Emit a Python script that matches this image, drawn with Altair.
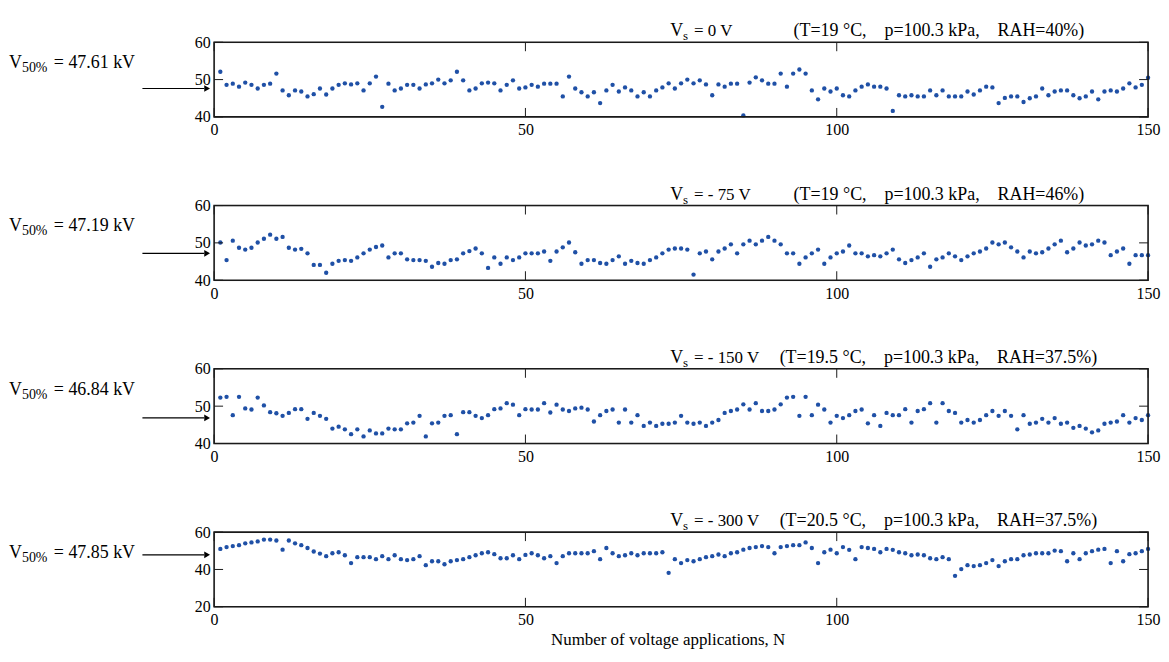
import altair as alt
import pandas as pd

N = list(range(1, 151))

v_0 = [52.1, 48.6, 48.9, 48.1, 49.2, 48.6, 47.6, 48.6, 48.9, 51.6,
       47.1, 45.8, 47.1, 46.8, 45.5, 46.1, 47.6, 46.0, 47.6, 48.6,
       49.0, 48.7, 49.0, 47.1, 49.0, 50.8, 42.7, 48.9, 47.1, 47.6,
       48.6, 48.6, 47.6, 48.7, 49.0, 50.0, 49.0, 49.8, 52.1, 49.8,
       47.1, 47.6, 49.0, 49.2, 49.0, 47.1, 48.6, 49.8, 47.6, 47.9,
       48.6, 48.1, 48.9, 48.9, 48.9, 45.5, 50.8, 47.6, 46.6, 45.5,
       46.6, 43.7, 47.1, 48.6, 46.8, 47.9, 47.1, 45.5, 46.6, 45.5,
       47.1, 47.9, 49.0, 47.6, 49.0, 50.0, 49.0, 49.8, 48.7, 45.8,
       48.7, 48.1, 48.9, 48.9, 40.4, 49.2, 50.6, 49.8, 48.9, 48.9,
       51.6, 48.1, 51.6, 52.7, 51.6, 47.1, 44.7, 47.6, 46.8, 47.6,
       45.8, 45.5, 47.1, 48.1, 48.7, 48.1, 48.1, 47.6, 41.6, 45.8,
       45.5, 45.8, 45.5, 45.5, 47.1, 45.8, 47.1, 45.5, 45.5, 45.5,
       46.8, 46.0, 47.1, 48.1, 47.9, 43.7, 45.1, 45.5, 45.5, 44.0,
       45.0, 45.5, 47.6, 45.8, 46.8, 47.1, 47.1, 45.8, 45.0, 45.5,
       46.8, 44.7, 46.8, 47.1, 46.8, 47.6, 49.0, 47.9, 48.6, 50.5]

v_75 = [50.1, 45.4, 50.6, 48.7, 48.2, 48.7, 50.1, 51.1, 52.2, 51.1,
        51.6, 48.7, 48.2, 48.4, 47.2, 44.1, 44.1, 42.0, 44.4, 45.2,
        45.4, 45.2, 46.1, 47.2, 48.2, 48.9, 49.3, 46.1, 47.2, 47.2,
        45.6, 45.4, 45.4, 45.2, 43.6, 44.6, 44.4, 45.4, 45.6, 47.2,
        47.8, 48.5, 47.2, 43.3, 46.1, 44.4, 46.1, 45.4, 46.1, 47.2,
        47.2, 47.2, 47.7, 45.2, 47.7, 48.8, 50.1, 47.5, 44.4, 45.4,
        45.4, 44.6, 44.4, 45.4, 46.4, 44.4, 45.2, 44.6, 44.4, 45.4,
        46.1, 47.2, 48.2, 48.5, 48.5, 48.2, 41.5, 47.2, 47.7, 45.6,
        47.7, 48.5, 49.6, 47.2, 49.6, 50.6, 49.6, 50.6, 51.6, 50.6,
        49.6, 47.2, 47.2, 44.4, 46.1, 47.2, 48.2, 44.4, 46.1, 47.2,
        47.7, 49.3, 47.2, 47.2, 46.4, 46.7, 46.4, 47.2, 48.2, 45.6,
        44.6, 45.4, 46.1, 47.2, 43.6, 45.6, 46.1, 47.2, 46.4, 45.4,
        46.4, 47.2, 47.7, 48.5, 50.1, 49.6, 50.1, 48.8, 47.7, 46.1,
        47.7, 47.2, 47.5, 48.5, 49.6, 50.6, 47.5, 48.5, 50.1, 49.3,
        49.6, 50.6, 50.1, 46.7, 47.7, 48.5, 44.4, 46.7, 46.7, 46.7]

v_150 = [52.3, 52.5, 47.6, 52.5, 49.4, 49.1, 52.3, 50.2, 48.4, 48.1,
         47.4, 48.2, 49.2, 49.2, 46.6, 48.2, 47.4, 46.6, 44.0, 44.5,
         43.8, 42.5, 43.8, 41.9, 43.5, 42.7, 42.7, 44.0, 43.8, 43.8,
         45.4, 45.6, 47.4, 41.9, 45.4, 45.6, 47.4, 47.6, 42.5, 48.4,
         48.4, 47.4, 46.8, 47.6, 49.2, 49.4, 50.8, 50.4, 47.6, 49.2,
         49.1, 49.1, 50.8, 48.3, 50.4, 49.1, 48.7, 49.4, 49.6, 49.1,
         45.9, 47.6, 48.7, 49.1, 45.6, 49.1, 45.6, 47.6, 44.7, 45.6,
         44.7, 45.3, 45.3, 45.6, 47.4, 45.6, 45.3, 45.6, 44.7, 45.6,
         46.3, 48.2, 48.7, 49.1, 50.5, 49.1, 50.8, 48.7, 48.7, 49.1,
         50.5, 52.3, 52.5, 47.4, 52.5, 47.6, 50.4, 49.1, 45.6, 47.4,
         46.8, 47.6, 48.7, 49.1, 45.4, 47.6, 44.7, 48.2, 47.6, 47.6,
         49.2, 45.6, 48.7, 49.2, 50.8, 45.6, 50.8, 48.7, 48.2, 45.6,
         46.3, 45.6, 46.3, 47.6, 48.7, 47.4, 48.7, 47.4, 43.8, 47.6,
         45.3, 45.6, 46.6, 45.6, 46.8, 45.3, 45.6, 44.2, 44.7, 44.0,
         43.0, 43.5, 45.3, 45.6, 45.9, 47.6, 45.6, 46.8, 46.3, 47.6]

v_300 = [51.0, 52.0, 52.5, 53.0, 54.0, 54.5, 55.0, 56.0, 56.0, 55.5,
         50.6, 55.5, 54.0, 53.0, 51.5, 49.6, 48.5, 47.1, 48.7, 49.2,
         47.6, 43.4, 46.6, 46.6, 46.6, 45.5, 47.1, 45.5, 47.6, 45.5,
         45.0, 45.5, 47.1, 42.3, 44.4, 44.4, 42.8, 44.4, 45.0, 45.5,
         46.6, 47.6, 48.7, 49.2, 48.2, 46.0, 46.0, 47.6, 45.5, 47.8,
         48.7, 47.6, 46.0, 47.1, 43.4, 47.1, 48.7, 48.7, 48.7, 48.7,
         49.8, 45.5, 51.5, 48.7, 47.1, 47.6, 48.7, 47.6, 48.7, 48.7,
         48.7, 49.2, 38.2, 45.5, 43.4, 45.0, 44.4, 45.5, 46.6, 47.1,
         48.0, 47.1, 48.7, 49.2, 50.6, 51.5, 52.0, 52.5, 52.0, 48.7,
         52.0, 52.5, 53.0, 53.0, 54.5, 51.5, 43.4, 49.2, 50.6, 48.7,
         52.0, 50.5, 45.5, 52.0, 51.5, 51.0, 49.2, 51.0, 50.5, 49.2,
         48.7, 47.6, 48.0, 47.6, 46.0, 45.5, 46.6, 45.5, 36.6, 40.2,
         42.3, 41.8, 42.3, 43.4, 45.0, 41.8, 44.4, 45.5, 45.5, 47.6,
         48.0, 48.7, 48.7, 48.7, 50.1, 49.8, 44.4, 48.7, 45.5, 48.7,
         49.8, 50.6, 51.0, 43.4, 49.8, 44.4, 48.2, 48.7, 49.8, 51.0]

X_TICKS = [0, 50, 100, 150]
V50 = [47.61, 47.19, 46.84, 47.85]
V50_TXT = ["47.61", "47.19", "46.84", "47.85"]
VS_TXT = ["= 0 V", "= - 75 V", "= - 150 V", "= - 300 V"]
SP = "\u00a0" * 4
COND_TXT = ["(T=19 °C," + SP + "p=100.3 kPa," + SP + "RAH=40%)",
            "(T=19 °C," + SP + "p=100.3 kPa," + SP + "RAH=46%)",
            "(T=19.5 °C," + SP + "p=100.3 kPa," + SP + "RAH=37.5%)",
            "(T=20.5 °C," + SP + "p=100.3 kPa," + SP + "RAH=37.5%)"]
COND_X = [582, 582, 568, 568]
Y_DOMAINS = [[40, 60], [40, 60], [40, 60], [20, 60]]
Y_TICKS = [[40, 50, 60], [40, 50, 60], [40, 50, 60], [20, 40, 60]]
SERIES = [v_0, v_75, v_150, v_300]
X_TITLE = "Number of voltage applications, N"

W, H = 938, 75
FONT = "Liberation Serif"
BLUE = "#1f50a6"
INK = "#1a1a1a"
TL = 9  # inward tick length


def one(df_cols):
    return pd.DataFrame(df_cols)


def txt(text, x, y, size=16, align="left"):
    return alt.Chart(one({"a": [0]})).mark_text(
        text=text, font=FONT, fontSize=size, align=align, baseline="alphabetic", color="black"
    ).encode(x=alt.value(x), y=alt.value(y))


def panel(i):
    xs = alt.Scale(domain=[0, 150], nice=False, zero=False)
    ys = alt.Scale(domain=Y_DOMAINS[i], nice=False, zero=False)
    x_axis = alt.Axis(values=X_TICKS, title=None, grid=False, domain=False, ticks=False,
                      labelFont=FONT, labelFontSize=16, labelColor="black", labelPadding=5,
                      labelFlush=False, format="d")
    y_axis = alt.Axis(values=Y_TICKS[i], title=None, grid=False, domain=False, ticks=False,
                      labelFont=FONT, labelFontSize=16, labelColor="black", labelPadding=4,
                      labelFlush=False, format="d")
    df = pd.DataFrame({"N": N, "V": SERIES[i]})
    pts = alt.Chart(df).mark_circle(size=19, color=BLUE, opacity=1).encode(
        x=alt.X("N:Q", scale=xs, axis=x_axis),
        y=alt.Y("V:Q", scale=ys, axis=y_axis),
    )
    xt = pd.DataFrame({"N": X_TICKS})
    yt = pd.DataFrame({"V": Y_TICKS[i]})
    xb = alt.Chart(xt).mark_rule(color=INK, strokeWidth=1).encode(
        x=alt.X("N:Q", scale=xs, axis=x_axis), y=alt.value(H), y2=alt.value(H - TL))
    xtp = alt.Chart(xt).mark_rule(color=INK, strokeWidth=1).encode(
        x=alt.X("N:Q", scale=xs, axis=x_axis), y=alt.value(0), y2=alt.value(TL))
    yl = alt.Chart(yt).mark_rule(color=INK, strokeWidth=1).encode(
        y=alt.Y("V:Q", scale=ys, axis=y_axis), x=alt.value(0), x2=alt.value(TL))
    yr = alt.Chart(yt).mark_rule(color=INK, strokeWidth=1).encode(
        y=alt.Y("V:Q", scale=ys, axis=y_axis), x=alt.value(W), x2=alt.value(W - TL))
    frame = alt.Chart(one({"a": [0]})).mark_rect(
        fill=None, stroke=INK, strokeWidth=1.6).encode(
        x=alt.value(0), x2=alt.value(W), y=alt.value(0), y2=alt.value(H))

    vdf = pd.DataFrame({"V": [V50[i]]})
    arrow = alt.Chart(vdf).mark_rule(color="black", strokeWidth=1.2).encode(
        y=alt.Y("V:Q", scale=ys, axis=y_axis), x=alt.value(-72), x2=alt.value(-10))
    head = alt.Chart(vdf).mark_point(shape="triangle-right", filled=True, size=45,
                                     color="black", opacity=1).encode(
        y=alt.Y("V:Q", scale=ys, axis=y_axis), x=alt.value(-7))

    ty = 26
    layers = [pts, xb, xtp, yl, yr, frame, arrow, head,
              txt("V", -206, ty, size=18),
              txt("50%", -193, ty + 4, size=14),
              txt("= " + V50_TXT[i] + " kV", -161, ty, size=18),
              txt("V", 458, -6, size=18),
              txt("s", 471, -2, size=13),
              txt(VS_TXT[i], 482, -6, size=17),
              txt(COND_TXT[i], COND_X[i], -6, size=18)]
    if i == 0:
        pin = alt.Chart(one({"a": [0]})).mark_point(opacity=0, size=1).encode(
            x=alt.value(-206), y=alt.value(-32))
        layers.append(pin)
    if i == 3:
        layers.append(txt(X_TITLE, 456, H + 38, size=17, align="center"))
    return alt.layer(*layers).properties(width=W, height=H)


chart = alt.vconcat(*[panel(i) for i in range(4)], spacing=89, bounds="flush").properties(
    padding=0
).configure_view(stroke=None).configure(background="white")

chart.save("out.html", embed_options={"renderer": "svg", "actions": False})
